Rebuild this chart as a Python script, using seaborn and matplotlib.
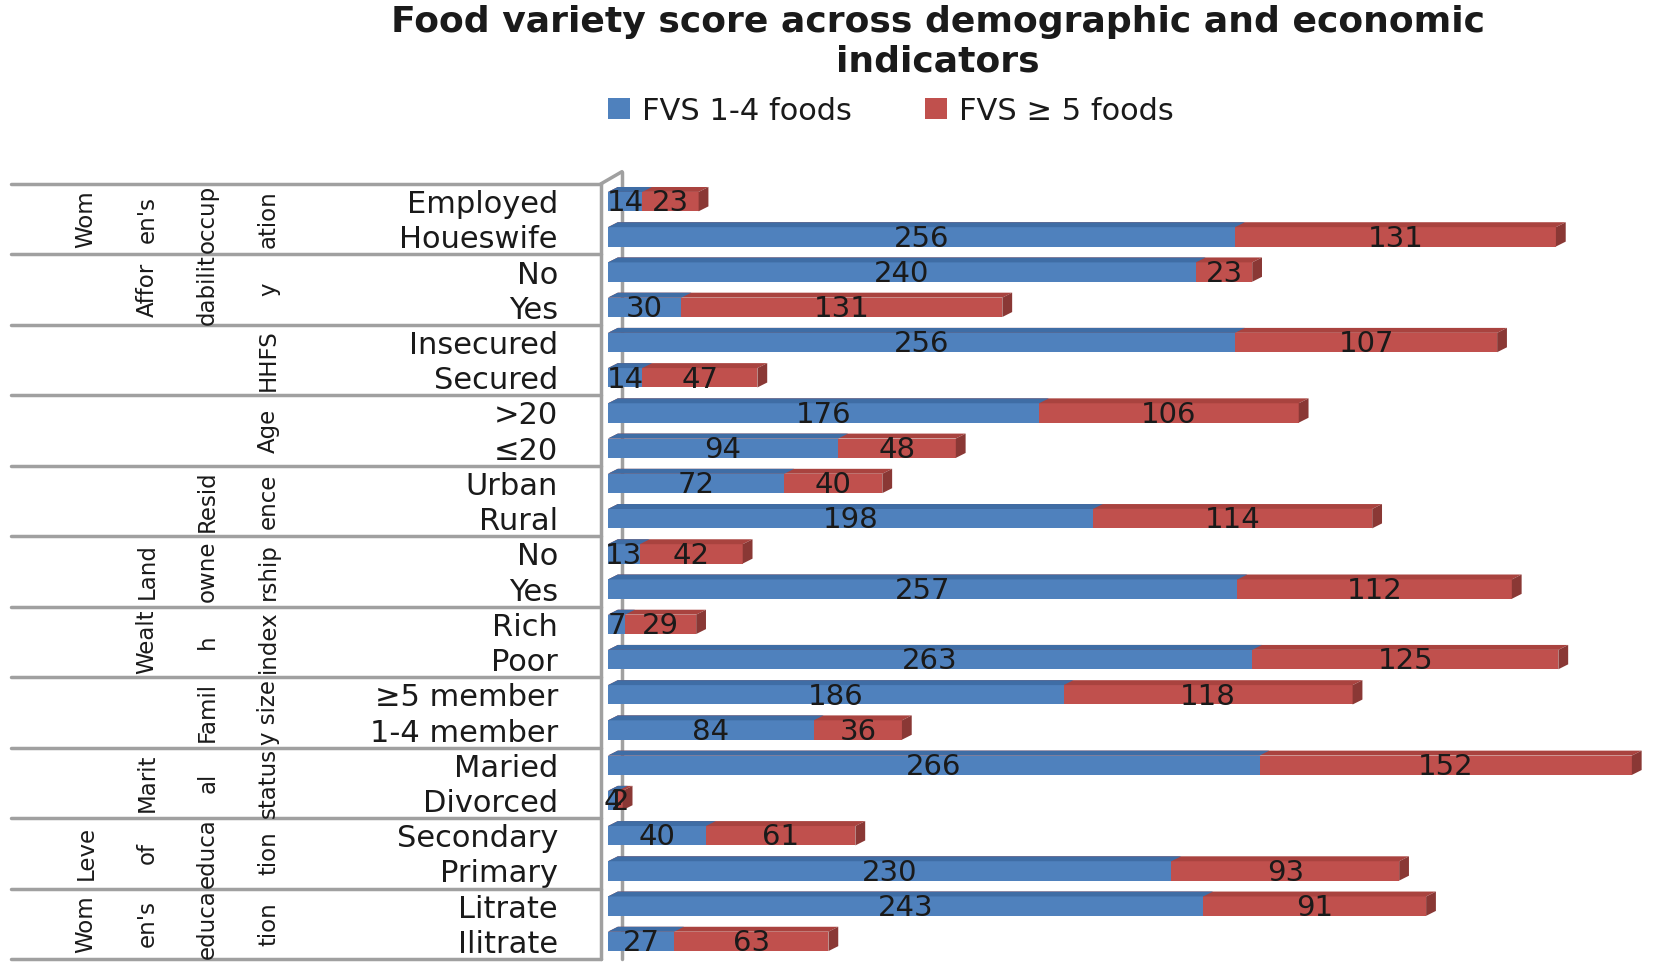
import pandas as pd
import matplotlib
matplotlib.use("Agg")
import matplotlib.pyplot as plt
import matplotlib.transforms as mtransforms
from matplotlib.patches import Polygon, Patch
import seaborn as sns

# --- chart data ---
group_labels = ["Wom\nen's\noccup\nation", "Affor\ndabilit\ny", "HHFS", "Age",
                "Resid\nence", "Land\nowne\nrship", "Wealt\nh\nindex",
                "Famil\ny size", "Marit\nal\nstatus", "Leve\nof\neduca\ntion",
                "Wom\nen's\neduca\ntion"]
sub_labels = ["Employed", "Houeswife", "No", "Yes", "Insecured", "Secured",
              ">20", "≤20", "Urban", "Rural", "No", "Yes", "Rich", "Poor",
              "≥5 member", "1-4 member", "Maried", "Divorced", "Secondary",
              "Primary", "Litrate", "Ilitrate"]
fvs_low = [14, 256, 240, 30, 256, 14, 176, 94, 72, 198, 13, 257, 7, 263,
           186, 84, 266, 4, 40, 230, 243, 27]
fvs_high = [23, 131, 23, 131, 107, 47, 106, 48, 40, 114, 42, 112, 29, 125,
            118, 36, 152, 2, 61, 93, 91, 63]
legend_labels = ["FVS 1-4 foods", "FVS ≥ 5 foods"]
title = "Food variety score across demographic and economic\nindicators"

BLUE, RED = "#4F81BD", "#C0504D"
BLUE_TOP, RED_TOP = "#3F6DA5", "#A9433F"
RED_SIDE = "#8A3835"
WALL = "#A0A0A0"
TXT = "#1a1a1a"

df = pd.DataFrame({
    "row": [f"r{i}" for i in range(len(sub_labels))],
    "low": fvs_low,
    "high": fvs_high,
})
df["total"] = df["low"] + df["high"]

sns.set_style("white")
plt.rcParams["font.family"] = ["DejaVu Sans"]

W, H = 1653, 971
fig = plt.figure(figsize=(W / 100, H / 100), dpi=100)
ax = fig.add_axes([608 / W, 1 - 959 / H, 1041 / W, (959 - 184) / H])

bar_w = 0.55
sns.barplot(data=df, x="total", y="row", color=RED, saturation=1, width=bar_w,
            errorbar=None, orient="h", ax=ax, zorder=2, linewidth=0)
n_red = len(ax.patches)
sns.barplot(data=df, x="low", y="row", color=BLUE, saturation=1, width=bar_w,
            errorbar=None, orient="h", ax=ax, zorder=3, linewidth=0)

ax.set_xlim(0, 425)
ax.set_ylim(len(sub_labels) - 0.5, -0.5)

# fake 3D: top faces and right end faces
dx, dy = 4.0, -0.14
for i, p in enumerate(ax.patches[:]):
    x0, y0, w, h = p.get_x(), p.get_y(), p.get_width(), p.get_height()
    is_red = i < n_red
    z = 2.1 if is_red else 3.1
    top = Polygon([(x0, y0), (x0 + w, y0), (x0 + w + dx, y0 + dy), (x0 + dx, y0 + dy)],
                  closed=True, facecolor=RED_TOP if is_red else BLUE_TOP,
                  edgecolor="none", zorder=z)
    ax.add_patch(top)
    if is_red:
        side = Polygon([(x0 + w, y0), (x0 + w + dx, y0 + dy),
                        (x0 + w + dx, y0 + h + dy), (x0 + w, y0 + h)],
                       closed=True, facecolor=RED_SIDE, edgecolor="none", zorder=z)
        ax.add_patch(side)

# value labels centred in each segment
for i in range(len(sub_labels)):
    lo, hi = fvs_low[i], fvs_high[i]
    ax.text(lo / 2, i + 0.05, str(lo), ha="center", va="center", fontsize=21,
            color=TXT, zorder=5)
    ax.text(lo + hi / 2, i + 0.05, str(hi), ha="center", va="center", fontsize=21,
            color=TXT, zorder=5)

ax.set_yticks(range(len(sub_labels)))
ax.set_yticklabels(sub_labels, fontsize=22, color=TXT)
ax.tick_params(axis="y", length=0, pad=36)
ax.set_xticks([])
ax.set_xlabel("")
ax.set_ylabel("")
for s in ax.spines.values():
    s.set_visible(False)

# left wall of the 3D plot area
n = len(sub_labels)
ax.plot([-3, -3], [-0.5, n - 0.5], color=WALL, lw=2.5, clip_on=False, zorder=1)
ax.plot([5.7, 5.7], [-0.85, n - 0.5], color=WALL, lw=2.5, clip_on=False, zorder=1)
ax.plot([-3, 5.7], [-0.5, -0.85], color=WALL, lw=2.5, clip_on=False, zorder=1)

# group table: separator lines and rotated group labels
trans = mtransforms.blended_transform_factory(fig.transFigure, ax.transData)
for k in range(len(group_labels) + 1):
    yb = 2 * k - 0.5
    ax.plot([11 / W, 601 / W], [yb, yb], color=WALL, lw=2.5, transform=trans,
            clip_on=False, zorder=1)
for k, g in enumerate(group_labels):
    ax.text(280 / W, 2 * k + 0.5, g, transform=trans, rotation=90,
            ha="right", va="center", multialignment="center", fontsize=16.5,
            linespacing=3.1, color=TXT)

fig.text(938 / W, 1 - 42 / H, title, ha="center", va="center", fontsize=26,
         fontweight="bold", color=TXT, linespacing=1.2)

handles = [Patch(facecolor=BLUE, edgecolor="none"), Patch(facecolor=RED, edgecolor="none")]
fig.legend(handles, legend_labels, loc="center", bbox_to_anchor=(891 / W, 1 - 111 / H),
           ncol=2, frameon=False, fontsize=22, handlelength=0.7, handleheight=0.7,
           handletextpad=0.4, columnspacing=2.4, labelcolor=TXT)

fig.savefig("out.png", dpi=100)
